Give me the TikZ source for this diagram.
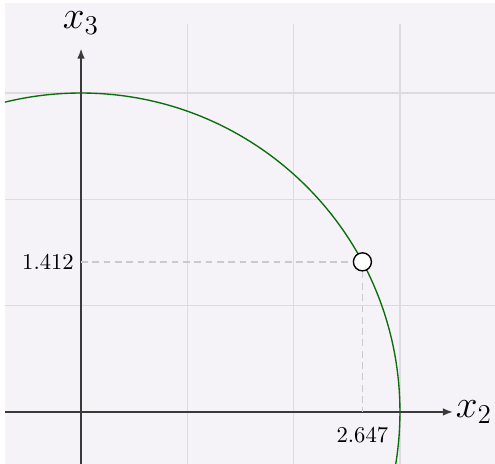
\documentclass[tikz,border=0pt]{standalone}
\usepackage{xcolor}
\usepackage{tikz}
\usetikzlibrary{arrows.meta,positioning}
\definecolor{paper}{HTML}{F5F2F8}
\definecolor{gridgray}{HTML}{DEDAE0}
\definecolor{axisgray}{HTML}{3A3A3A}
\definecolor{circgreen}{HTML}{0A6E0A}
\definecolor{dashgray}{HTML}{CACACE}
\tikzset{
  gridline/.style={gridgray, line width=0.6pt},
  axisline/.style={-{Latex[length=1.6mm,width=1.2mm]}, axisgray, line width=0.8pt},
  circleline/.style={circgreen, line width=0.6pt},
  helperline/.style={dashgray, dash pattern=on 3pt off 2pt, line width=0.7pt},
  pointdot/.style={circle, draw=black, fill=white, line width=0.6pt,
    inner sep=0pt, minimum size=0.17cm*1.65},
  ticklabel/.style={font=\normalsize, inner sep=2pt},
  axislabel/.style={font=\LARGE, inner sep=1pt},
}

\begin{document}
\begin{tikzpicture}[x=1.65cm, y=1.65cm]
  \useasboundingbox (-0.762,-0.489) rectangle (3.894,3.875);
  \fill[paper] (-0.715,-0.489) rectangle (3.894,3.847);

  % grid
  \foreach \g in {1,2,3} {
    \draw[gridline] (\g,-0.489) -- (\g,3.649);
    \draw[gridline] (-0.715,\g) -- (3.894,\g);
  }

  % circle of radius 3
  \begin{scope}
    \clip (-0.715,-0.489) rectangle (3.894,3.847);
    \draw[circleline] (0,0) circle[radius=3];
  \end{scope}

  % axes
  \coordinate (xstart) at (-0.715,0);
  \coordinate (xend) at (3.50,0);
  \coordinate (ystart) at (0,-0.489);
  \coordinate (yend) at (0,3.42);
  \draw[axisline] (xstart) -- (xend);
  \draw[axisline] (ystart) -- (yend);
  \node[axislabel, right=0pt of xend] (xlab) {$x_2$};
  \node[axislabel, above=5pt of yend] (ylab) {$x_3$};

  % point on the circle
  \coordinate (xfoot) at (2.647,0);
  \coordinate (yfoot) at (0,1.412);
  \node[pointdot] (pt) at (2.647,1.412) {};
  \draw[helperline] (yfoot) -- (pt);
  \draw[helperline] (pt) -- (xfoot);
  \node[ticklabel, left=1pt of yfoot] (ylabel) {$1.412$};
  \node[ticklabel, below=5pt of xfoot] (xlabel) {$2.647$};
\end{tikzpicture}
\end{document}
